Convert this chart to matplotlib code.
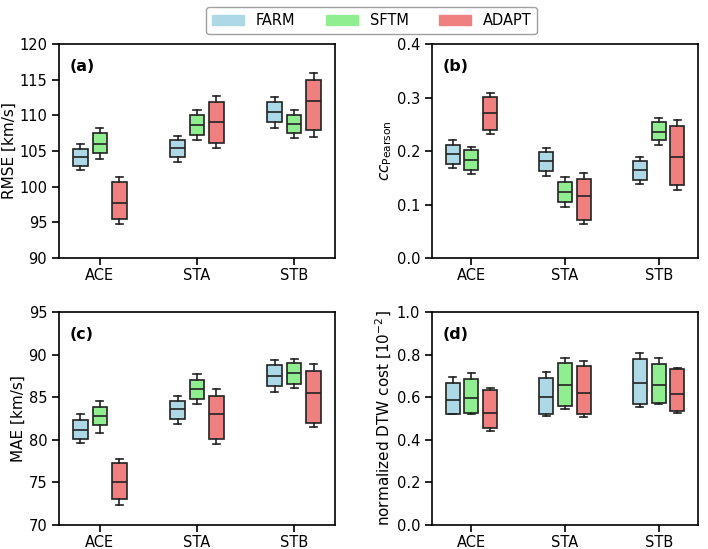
import numpy as np
import matplotlib
matplotlib.use("Agg")
import matplotlib.pyplot as plt
from matplotlib.patches import Patch

# -------------------- Data --------------------
spacecraft = ["ACE", "STA", "STB"]
models = ["FARM", "SFTM", "ADAPT"]
model_colors = ["lightblue", "lightgreen", "lightcoral"]

# each box: (whislo, q1, med, q3, whishi), ordered [spacecraft][model]
rmse = [
    [(102.3, 102.9, 104.1, 105.3, 106.0), (103.9, 104.7, 106.0, 107.5, 108.2), (94.8, 95.4, 97.7, 100.6, 101.3)],
    [(103.4, 104.1, 105.4, 106.6, 107.1), (106.6, 107.3, 108.6, 110.0, 110.7), (105.4, 106.1, 109.0, 111.9, 112.7)],
    [(108.2, 109.1, 110.5, 111.9, 112.6), (106.8, 107.5, 108.8, 110.1, 110.7), (107.0, 107.9, 112.0, 114.9, 116.0)],
]
cc = [
    [(0.168, 0.176, 0.195, 0.212, 0.221), (0.157, 0.165, 0.183, 0.201, 0.208), (0.231, 0.240, 0.271, 0.301, 0.309)],
    [(0.154, 0.163, 0.182, 0.199, 0.206), (0.095, 0.105, 0.124, 0.142, 0.152), (0.064, 0.071, 0.116, 0.148, 0.158)],
    [(0.138, 0.146, 0.164, 0.182, 0.188), (0.211, 0.220, 0.236, 0.254, 0.262), (0.127, 0.136, 0.189, 0.246, 0.258)],
]
mae = [
    [(79.6, 80.1, 81.2, 82.3, 83.0), (80.8, 81.7, 82.8, 83.9, 84.5), (72.3, 73.0, 75.0, 77.3, 77.8)],
    [(81.9, 82.4, 83.6, 84.6, 85.1), (84.2, 84.8, 86.0, 87.0, 87.7), (79.5, 80.1, 83.0, 85.1, 86.0)],
    [(85.6, 86.3, 87.5, 88.8, 89.4), (86.1, 86.6, 87.8, 89.0, 89.5), (81.5, 82.0, 85.5, 88.1, 88.9)],
]
dtw = [
    [(0.520, 0.523, 0.587, 0.665, 0.694), (0.523, 0.527, 0.598, 0.685, 0.713), (0.443, 0.457, 0.526, 0.635, 0.643)],
    [(0.510, 0.520, 0.600, 0.691, 0.718), (0.543, 0.557, 0.655, 0.761, 0.783), (0.507, 0.520, 0.619, 0.747, 0.768)],
    [(0.555, 0.566, 0.666, 0.777, 0.807), (0.566, 0.574, 0.655, 0.755, 0.783), (0.526, 0.535, 0.613, 0.733, 0.738)],
]

panels = [
    ("(a)", rmse, "RMSE [km/s]", (90, 120), np.arange(90, 121, 5)),
    ("(b)", cc, r"$\mathit{cc}_{\mathrm{Pearson}}$", (0, 0.4), np.arange(0, 0.41, 0.1)),
    ("(c)", mae, "MAE [km/s]", (70, 95), np.arange(70, 96, 5)),
    ("(d)", dtw, r"normalized DTW cost [$10^{-2}$]", (0, 1.0), np.arange(0, 1.01, 0.2)),
]

# axes rectangles in pixels (left, top, right, bottom)
W, H = 708, 549
rects = [(59, 44, 335, 258), (432, 44, 698, 258), (59, 312, 335, 525), (432, 312, 698, 525)]

plt.rcParams["font.family"] = "DejaVu Sans"
fig = plt.figure(figsize=(W / 100, H / 100), dpi=100)

offsets = [-0.2, 0.0, 0.2]
for (label, data, ylabel, ylim, yticks), (l, t, r, b) in zip(panels, rects):
    ax = fig.add_axes([l / W, 1 - b / H, (r - l) / W, (b - t) / H])
    for j, (name, color) in enumerate(zip(models, model_colors)):
        stats = []
        pos = []
        for i in range(len(spacecraft)):
            lo, q1, med, q3, hi = data[i][j]
            stats.append(dict(whislo=lo, q1=q1, med=med, q3=q3, whishi=hi, fliers=[]))
            pos.append(i + offsets[j])
        ax.bxp(stats, positions=pos, widths=0.15, patch_artist=True, showfliers=False,
               boxprops=dict(facecolor=color, edgecolor="#222222", linewidth=1.2),
               medianprops=dict(color="#222222", linewidth=1.2),
               whiskerprops=dict(color="#222222", linewidth=1.2),
               capprops=dict(color="#222222", linewidth=1.2))
    ax.set_xticks(range(len(spacecraft)))
    ax.set_xticklabels(spacecraft)
    ax.set_xlim(-0.42, 2.42)
    ax.set_ylim(*ylim)
    ax.set_yticks(yticks)
    ax.set_ylabel(ylabel, fontsize=11, labelpad=2)
    ax.tick_params(labelsize=10.5, length=5, width=1.2)
    ax.tick_params(axis="x", pad=2.5)
    for sp in ax.spines.values():
        sp.set_linewidth(1.2)
    ax.text(0.04, 0.93, label, transform=ax.transAxes, fontsize=11.5, fontweight="bold", va="top")

handles = [Patch(facecolor=c, edgecolor=c, label=m) for m, c in zip(models, model_colors)]
fig.legend(handles=handles, loc="upper center", bbox_to_anchor=(0.525, 1.0), ncol=3,
           fontsize=10.5, handlelength=2.2, handletextpad=0.8, columnspacing=2.1,
           frameon=True, edgecolor="#888888")

fig.savefig("out.png", dpi=100)
